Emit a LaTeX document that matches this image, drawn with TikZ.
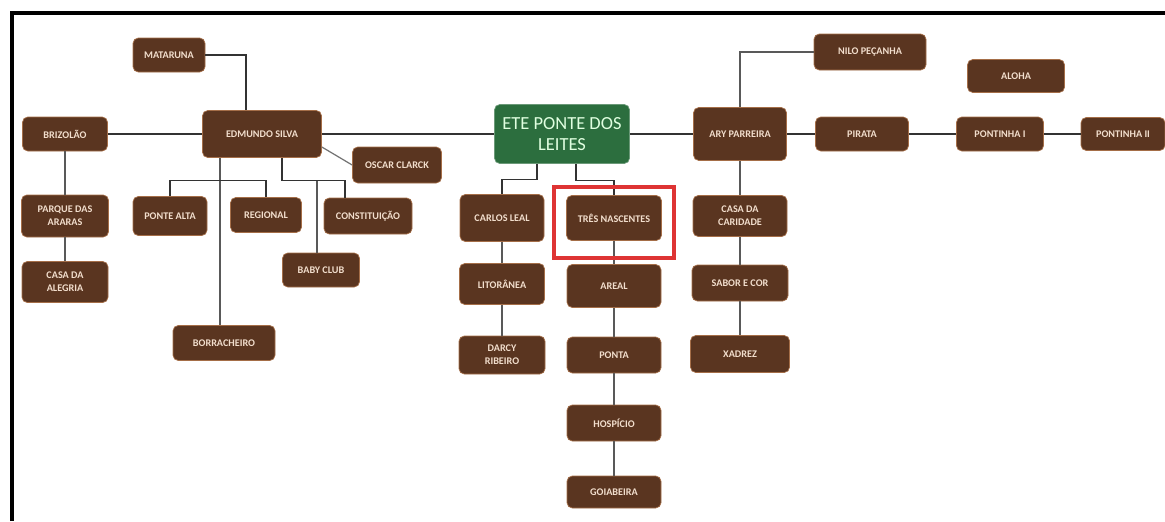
\documentclass[tikz,border=0pt]{standalone}
\usepackage{fontspec}
\setmainfont{Carlito}
\usetikzlibrary{calc}
\definecolor{boxbrown}{RGB}{90,53,32}
\definecolor{boxedge}{RGB}{165,110,72}
\definecolor{boxtext}{RGB}{242,222,205}
\definecolor{rootgreen}{RGB}{44,110,62}
\definecolor{markred}{RGB}{222,52,52}
\tikzset{
  box/.style={draw=boxedge, line width=0.4pt, fill=boxbrown, rounded corners=3pt, text=boxtext, font=\fontsize{5.8}{7.4}\selectfont\bfseries, align=center, inner sep=1pt},
  root/.style={box, fill=rootgreen, draw=rootgreen!70!white, text=white!88!green, font=\fontsize{10.5}{12}\selectfont},
  sz/.style 2 args={minimum width=#1*0.02cm, minimum height=#2*0.02cm},
  link/.style={draw=black!80, line width=0.7pt},
}

\begin{document}
\begin{tikzpicture}[x=0.02cm,y=-0.02cm]
\useasboundingbox (0,0) rectangle (1165,521);
\draw[line width=2.3pt] (12,521) -- (12,13) -- (1165,13);

\node[box,sz={72}{34}] (mataruna) at (169,55) {MATARUNA};
\node[box,sz={85}{34}] (brizolao) at (65,134) {BRIZOLÃO};
\node[box,sz={119}{47}] (edmundo) at (262,134) {EDMUNDO SILVA};
\node[box,sz={89}{36}] (oscar) at (397,165) {OSCAR CLARCK};
\node[box,sz={87}{42}] (parque) at (65,216) {PARQUE DAS\\ARARAS};
\node[box,sz={86}{41}] (alegria) at (65,282) {CASA DA\\ALEGRIA};
\node[box,sz={74}{39}] (pontealta) at (170,216) {PONTE ALTA};
\node[box,sz={71}{35}] (regional) at (266,215) {REGIONAL};
\node[box,sz={88}{36}] (constituicao) at (368,216) {CONSTITUIÇÃO};
\node[box,sz={77}{34}] (babyclub) at (321,270) {BABY CLUB};
\node[box,sz={102}{35}] (borracheiro) at (224,343) {BORRACHEIRO};

\node[root,sz={135}{59}] (ete) at (562,134) {ETE PONTE DOS\\LEITES};
\node[box,sz={84}{47}] (carlos) at (502,218) {CARLOS LEAL};
\node[box,sz={95}{45}] (tres) at (614,218) {TRÊS NASCENTES};
\node[box,sz={85}{41}] (litoranea) at (502,284) {LITORÂNEA};
\node[box,sz={86}{38}] (darcy) at (502,355) {DARCY\\RIBEIRO};
\node[box,sz={94}{43}] (areal) at (614,286) {AREAL};
\node[box,sz={94}{36}] (ponta) at (614,355) {PONTA};
\node[box,sz={94}{36}] (hospicio) at (614,423) {HOSPÍCIO};
\node[box,sz={94}{32}] (goiabeira) at (614,492) {GOIABEIRA};

\node[box,sz={93}{53}] (ary) at (740,134) {ARY PARREIRA};
\node[box,sz={112}{36}] (nilo) at (870,52) {NILO PEÇANHA};
\node[box,sz={97}{33}] (aloha) at (1016,76) {ALOHA};
\node[box,sz={93}{34}] (pirata) at (862,134) {PIRATA};
\node[box,sz={87}{34}] (pontinha1) at (1000,134) {PONTINHA I};
\node[box,sz={84}{33}] (pontinha2) at (1123,134) {PONTINHA II};
\node[box,sz={94}{41}] (caridade) at (740,216) {CASA DA\\CARIDADE};
\node[box,sz={96}{36}] (sabor) at (740,283) {SABOR E COR};
\node[box,sz={99}{37}] (xadrez) at (740,354) {XADREZ};

\draw[link] (mataruna.east) -| ($(edmundo.north)+(-16,0)$);
\draw[link] (brizolao.east) -- (edmundo.west);
\draw[link] (edmundo.east) -- (ete.west);
\draw[link,draw=black!55] ($(edmundo.east)+(0,13)$) -- (oscar.west);
\draw[link,draw=black!65] (brizolao.south) -- (parque.north);
\draw[link,draw=black!65] (parque.south) -- (alegria.north);
\draw[link,draw=black!65] ($(edmundo.south)+(-42,0)$) -- ($(borracheiro.north)+(-4,0)$);
\draw[link] (pontealta.north) |- ($(edmundo.south)+(-42,23)$) -| (regional.north);
\draw[link] ($(edmundo.south)+(20,0)$) |- ($(constituicao.north)+(-23,-17)$) -- ($(constituicao.north)+(-23,0)$);
\draw[link,draw=black!65] ($(babyclub.north)+(-4,0)$) -- ++(0,-72);

\draw[link] ($(ete.south)+(-25,0)$) |- ($(carlos.north)+(0,-15)$) -- (carlos.north);
\draw[link] ($(ete.south)+(14,0)$) |- ($(tres.north)+(0,-15)$) -- (tres.north);
\draw[link,draw=black!65] (carlos.south) -- (litoranea.north);
\draw[link,draw=black!65] (litoranea.south) -- (darcy.north);
\draw[link,draw=black!65] (tres.south) -- (areal.north);
\draw[link,draw=black!65] (areal.south) -- (ponta.north);
\draw[link,draw=black!65] (ponta.south) -- (hospicio.north);
\draw[link,draw=black!65] (hospicio.south) -- (goiabeira.north);

\draw[link] (ete.east) -- (ary.west);
\draw[link,draw=black!65] (ary.north) |- (nilo.west);
\draw[link] (ary.east) -- (pirata.west);
\draw[link] (pirata.east) -- (pontinha1.west);
\draw[link] (pontinha1.east) -- (pontinha2.west);
\draw[link,draw=black!65] (ary.south) -- (caridade.north);
\draw[link,draw=black!65] (caridade.south) -- (sabor.north);
\draw[link,draw=black!65] (sabor.south) -- (xadrez.north);

\draw[markred, line width=2.2pt] ($(tres.north west)+(-12,-8)$) rectangle ($(tres.south east)+(12,17)$);
\end{tikzpicture}
\end{document}
